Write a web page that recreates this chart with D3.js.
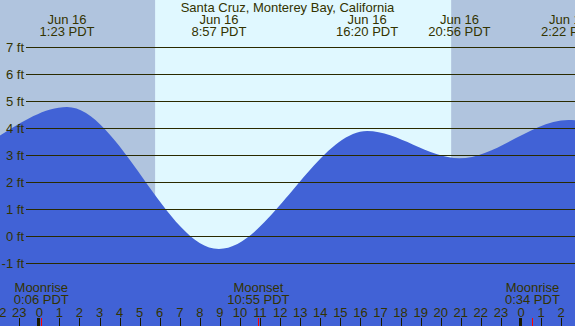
<!DOCTYPE html>
<html>
<head>
<meta charset="utf-8">
<script src="https://cdn.jsdelivr.net/npm/d3@7"></script>
<style>
  body { margin: 0; padding: 0; overflow: hidden; }
  svg { display: block; font-family: "Liberation Sans", Arial, sans-serif; }
</style>
</head>
<body>
<svg id="tide" width="575" height="326"></svg>
<script>
// hours counted from Jun 16 00:00 PDT (first two and last points lie off the chart)
var tideHours   = [-11.5, -5.0, 1.383, 8.95, 16.333, 20.933, 26.367, 33.0];
var tideHeights = [4.6, 2.8, 4.78, -0.48, 3.89, 2.88, 4.3, -0.2];
var extremeDays  = ["Jun 16", "Jun 16", "Jun 16", "Jun 16", "Jun 17"];
var extremeTimes = ["1:23 PDT", "8:57 PDT", "16:20 PDT", "20:56 PDT", "2:22 PDT"];

var sunriseHour = 5.77;
var sunsetHour = 20.52;

var moonHours  = [0.1, 10.917, 24.567];
var moonEvents = ["Moonrise", "Moonset", "Moonrise"];
var moonTimes  = ["0:06 PDT", "10:55 PDT", "0:34 PDT"];

var feetTicks = [7, 6, 5, 4, 3, 2, 1, 0, -1];
var hourTicks = d3.range(-2, 27);

var title = "Santa Cruz, Monterey Bay, California";

var svg = d3.select("svg#tide");
var width = 575, height = 326;
var textColor = "#333300";

var x = d3.scaleLinear().domain([0, 24]).range([39.3, 521]);
var y = d3.scaleLinear().domain([-1, 7]).range([263, 47]);

// night / day background
svg.append("rect").attr("x", 0).attr("y", 0)
   .attr("width", width).attr("height", height).attr("fill", "#b0c4de");
svg.append("rect")
   .attr("x", x(sunriseHour)).attr("y", 0)
   .attr("width", x(sunsetHour) - x(sunriseHour)).attr("height", height)
   .attr("fill", "#e0f8ff");

// tide curve
var tideData = tideHours.map(function(h, i) { return [h, tideHeights[i]]; });
var area = d3.area()
    .x(function(d) { return x(d[0]); })
    .y0(height)
    .y1(function(d) { return y(d[1]); })
    .curve(d3.curveMonotoneX);
svg.append("path").datum(tideData)
   .attr("d", area)
   .attr("fill", "#4162d6");

// grid lines + feet labels
feetTicks.forEach(function(f) {
  var yy = Math.round(y(f)) + 0.5;
  svg.append("line")
     .attr("x1", 26).attr("x2", width)
     .attr("y1", yy).attr("y2", yy)
     .style("stroke", "#2a2a00").style("stroke-width", 1);
  svg.append("text")
     .attr("x", 24).attr("y", yy + 4)
     .attr("text-anchor", "end")
     .attr("font-size", 13).attr("fill", textColor)
     .text(f + " ft");
});

// title
svg.append("text")
   .attr("x", width / 2).attr("y", 12)
   .attr("text-anchor", "middle")
   .attr("font-size", 13).attr("fill", textColor)
   .text(title);

// high / low labels
extremeTimes.forEach(function(t, i) {
  var xx = x(tideHours[i + 2]);
  svg.append("text").attr("x", xx).attr("y", 24)
     .attr("text-anchor", "middle").attr("font-size", 13).attr("fill", textColor)
     .text(extremeDays[i]);
  svg.append("text").attr("x", xx).attr("y", 36)
     .attr("text-anchor", "middle").attr("font-size", 13).attr("fill", textColor)
     .text(t);
});

// moon labels
moonHours.forEach(function(h, i) {
  var xx = x(h);
  svg.append("text").attr("x", xx).attr("y", 292)
     .attr("text-anchor", "middle").attr("font-size", 13).attr("fill", textColor)
     .text(moonEvents[i]);
  svg.append("text").attr("x", xx).attr("y", 304)
     .attr("text-anchor", "middle").attr("font-size", 13).attr("fill", textColor)
     .text(moonTimes[i]);
});

// hour ticks and labels
hourTicks.forEach(function(h) {
  var xx = x(h);
  var label = ((h % 24) + 24) % 24;
  svg.append("text").attr("x", xx).attr("y", 317)
     .attr("text-anchor", "middle").attr("font-size", 13).attr("fill", textColor)
     .text(label);
  if (label === 0) {
    svg.append("rect")
       .attr("x", Math.round(xx) - 2).attr("y", 318)
       .attr("width", 3).attr("height", 8)
       .attr("fill", "#1a1a00");
  } else {
    svg.append("line")
       .attr("x1", Math.round(xx) + 0.5).attr("x2", Math.round(xx) + 0.5)
       .attr("y1", 318).attr("y2", height)
       .style("stroke", "#1a1a00").style("stroke-width", 1);
  }
});

moonHours.forEach(function(h) {
  var xx = Math.round(x(h)) + 0.5;
  svg.append("line")
     .attr("x1", xx).attr("x2", xx)
     .attr("y1", 318).attr("y2", height)
     .style("stroke", "red").style("stroke-width", 1);
});
</script>
</body>
</html>
